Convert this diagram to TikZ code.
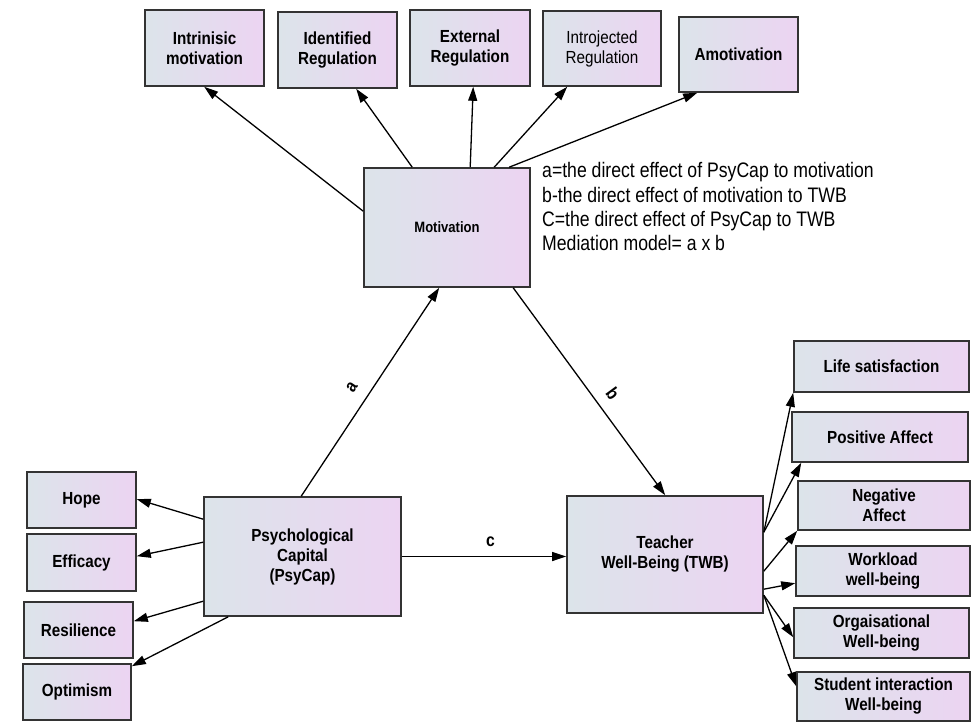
\documentclass[tikz,border=0pt]{standalone}
\usepackage{fontspec}
\setmainfont{Liberation Sans}
\newfontfamily\legfont[FakeStretch=0.84]{Liberation Sans}
\newfontfamily\boxfont[FakeStretch=0.87]{Liberation Sans}
\usetikzlibrary{arrows.meta,calc}
\definecolor{boxL}{RGB}{220,228,234}
\definecolor{boxR}{RGB}{236,212,242}
\begin{document}
\begin{tikzpicture}[x=1pt,y=-1pt,
  box/.style={draw=black!80, line width=1.6pt, left color=boxL, right color=boxR,
    inner sep=1pt, align=center, font=\boxfont\bfseries\fontsize{17.5}{20}\selectfont},
  arr/.style={line width=1.3pt, -{Triangle[length=14pt,width=9pt]}},
  lab/.style={font=\boxfont\bfseries\fontsize{18}{20}\selectfont},
  leg/.style={anchor=base west, inner sep=0pt, font=\legfont\fontsize{21}{24}\selectfont}]
\useasboundingbox (0,0) rectangle (971,722);
% top boxes
\node[box, minimum width=119pt, minimum height=76pt] (intr) at (204.5,48) {Intrinisic\\motivation};
\node[box, minimum width=119pt, minimum height=76pt] (iden) at (337.5,50) {Identified\\Regulation};
\node[box, minimum width=120pt, minimum height=76pt] (ext) at (470,48) {External\\Regulation};
\node[box, minimum width=118pt, minimum height=75pt, font=\boxfont\fontsize{17.5}{20}\selectfont] (intro) at (602,48.5) {Introjected\\Regulation};
\node[box, minimum width=119pt, minimum height=75pt] (amot) at (738.5,54.5) {Amotivation};
% main boxes
\node[box, minimum width=166pt, minimum height=119pt, font=\boxfont\bfseries\fontsize{15}{18}\selectfont] (mot) at (447,227.5) {Motivation};
\node[box, minimum width=197pt, minimum height=119pt] (psy) at (302.5,556.5) {Psychological\\Capital\\(PsyCap)};
\node[box, minimum width=196pt, minimum height=117pt] (twb) at (665,554.5) {Teacher\\Well-Being (TWB)};
% left boxes
\node[box, minimum width=109pt, minimum height=56pt] (hope) at (81.5,500) {Hope};
\node[box, minimum width=109pt, minimum height=57pt] (eff) at (81.5,562.5) {Efficacy};
\node[box, minimum width=109pt, minimum height=56pt] (res) at (78.5,630) {Resilience};
\node[box, minimum width=108pt, minimum height=56pt] (opt) at (77,692) {Optimism};
% right boxes
\node[box, minimum width=175pt, minimum height=51pt] (life) at (881.5,366.5) {Life satisfaction};
\node[box, minimum width=176pt, minimum height=50pt] (pos) at (880,437) {Positive Affect};
\node[box, minimum width=172pt, minimum height=49pt] (neg) at (884,505.5) {Negative\\Affect};
\node[box, minimum width=174pt, minimum height=50pt] (work) at (883,571) {Workload\\well-being};
\node[box, minimum width=175pt, minimum height=50pt] (org) at (881.5,633) {Orgaisational\\Well-being};
\node[box, minimum width=173pt, minimum height=49pt] (stud) at (883.5,696.5) {Student interaction\\Well-being};
% legend
\node[leg] (leg1) at (542,178) {a=the direct effect of PsyCap to motivation};
\node[leg] (leg2) at (542,202) {b-the direct effect of motivation to TWB};
\node[leg] (leg3) at (542,226) {C=the direct effect of PsyCap to TWB};
\node[leg] (leg4) at (542,250) {Mediation model= a x b};
% motivation arrows
\draw[arr] ([yshift=-44pt]mot.north west) -- ([xshift=60pt]intr.south west);
\draw[arr] ([xshift=49pt]mot.north west) -- ([xshift=79pt]iden.south west);
\draw[arr] ([xshift=107pt]mot.north west) -- ([xshift=64pt]ext.south west);
\draw[arr] ([xshift=131pt]mot.north west) -- ([xshift=25pt]intro.south west);
\draw[arr] ([xshift=146pt]mot.north west) -- ([xshift=19pt]amot.south west);
% psycap arrows
\draw[arr] ([yshift=-23pt]psy.north west) -- ([yshift=-28pt]hope.north east);
\draw[arr] ([yshift=-46pt]psy.north west) -- ([yshift=-23pt]eff.north east);
\draw[arr] ([yshift=-105pt]psy.north west) -- ([yshift=-20pt]res.north east);
\draw[arr] ([xshift=25pt]psy.south west) -- ([yshift=-3pt]opt.north east);
% paths a b c
\draw[arr] ([xshift=98pt]psy.north west) -- node[lab, sloped, above=9pt, pos=0.475] (la) {a} ([xshift=76pt]mot.south west);
\draw[arr] ([xshift=150pt]mot.south west) -- node[lab, sloped, above=7.5pt, pos=0.56] (lb) {b} ([xshift=99pt]twb.north west);
\draw[arr] (psy.east) -- node[lab, above=5.5pt, pos=0.54] (lc) {c} (psy.east -| twb.west);
% twb arrows
\draw[arr] ([yshift=-37pt]twb.north east) -- (life.south west);
\draw[arr] ([yshift=-37pt]twb.north east) -- ([xshift=10pt]pos.south west);
\draw[arr] ([yshift=-76pt]twb.north east) -- (neg.south west);
\draw[arr] ([yshift=-94pt]twb.north east) -- ([yshift=-38pt]work.north west);
\draw[arr] ([yshift=-100pt]twb.north east) -- ([yshift=-30pt]org.north west);
\draw[arr] ([yshift=-100pt]twb.north east) -- ([yshift=-15pt]stud.north west);
\end{tikzpicture}
\end{document}
